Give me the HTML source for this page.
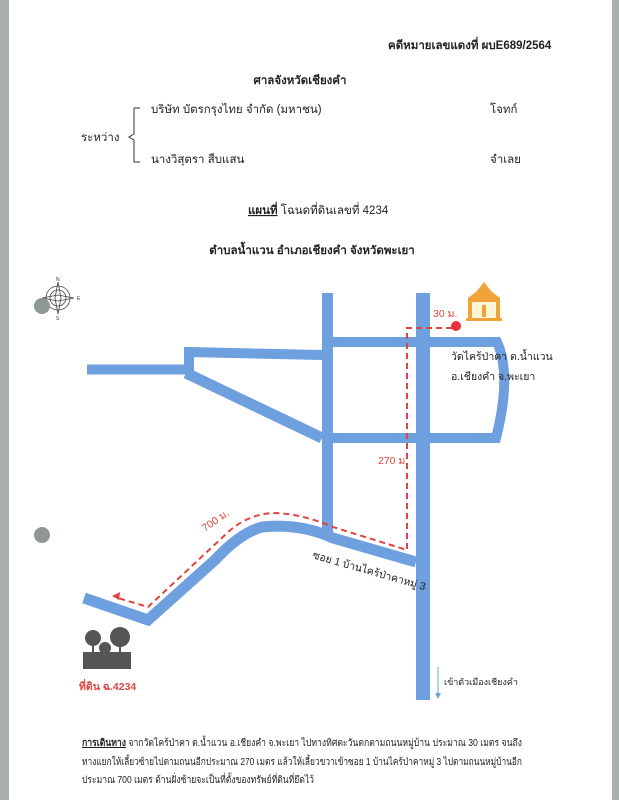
<!DOCTYPE html>
<html><head><meta charset="utf-8"><style>
body{margin:0;width:619px;height:800px;overflow:hidden;background:#fff}
svg{display:block}
text{font-family:"Liberation Sans","Noto Sans CJK SC",sans-serif}
</style></head><body>
<svg width="619" height="800" viewBox="0 0 619 800" xmlns="http://www.w3.org/2000/svg">
<rect width="619" height="800" fill="#fff"/>
<rect x="0" y="0" width="9" height="800" fill="#a9b0ad"/>
<rect x="612" y="0" width="7" height="800" fill="#a9b0ad"/>
<g font-size="11.5" fill="#222">
<text x="388" y="49" font-weight="bold">คดีหมายเลขแดงที่ ผบE689/2564</text>
<text x="300" y="84" font-weight="bold" text-anchor="middle">ศาลจังหวัดเชียงคำ</text>
<text x="151" y="113">บริษัท บัตรกรุงไทย จำกัด (มหาชน)</text>
<text x="490" y="113">โจทก์</text>
<text x="81" y="141">ระหว่าง</text>
<text x="151" y="163">นางวิสุตรา สืบแสน</text>
<text x="490" y="163">จำเลย</text>
<text x="248" y="214"><tspan font-weight="bold" text-decoration="underline">แผนที่</tspan> โฉนดที่ดินเลขที่ 4234</text>
<text x="312" y="254" font-weight="bold" text-anchor="middle">ตำบลน้ำแวน อำเภอเชียงคำ จังหวัดพะเยา</text>
</g>
<path d="M140 108 h-6 v26 l-5 3 l5 3 v22 h6" fill="none" stroke="#333" stroke-width="1"/>
<g fill="none" stroke="#6e9fdf" stroke-linejoin="miter">
<path d="M327.5 293 V538" stroke-width="11"/>
<path d="M423 293 V700" stroke-width="14"/>
<path d="M333 342 H497 Q512 375 496 438 H333" stroke-width="10"/>
<path d="M87 369.5 H189 V352 L322 355" stroke-width="10"/>
<path d="M186 373 L322 438" stroke-width="11"/>
<path d="M416 562 L333 538 Q300 523 262 527 Q240 533 215 560 L148 620 L84 598" stroke-width="11"/>
</g>
<g fill="none" stroke="#e0443e" stroke-width="2" stroke-dasharray="6,4">
<path d="M452 328 H407 V550 L333 527 Q300 513 272 513 Q245 515 225 535 L148 607 L118 598"/>
</g>
<path d="M112 596 l8 -4 l-1 8 z" fill="#e0443e"/>
<circle cx="456" cy="326" r="5" fill="#e8323a"/>
<g>
<path d="M468 320 h32 v-22 l-8 -6 l-8 -10 l-8 10 l-8 6 z" fill="#f0a33a"/>
<rect x="472" y="302" width="24" height="16" fill="#fff4d6"/>
<rect x="482" y="305" width="4" height="12" fill="#f0a33a"/>
<rect x="466" y="318" width="36" height="3" fill="#f0a33a"/>
</g>
<g font-size="10.5" fill="#e0443e">
<text x="433" y="317">30 ม.</text>
<text x="378" y="464">270 ม.</text>
<text x="205" y="532" transform="rotate(-35 205 532)">700 ม.</text>
<text x="79" y="690" font-weight="bold">ที่ดิน ฉ.4234</text>
</g>
<g font-size="10.5" fill="#222">
<text x="451" y="360">วัดไคร้ป่าคา ต.น้ำแวน</text>
<text x="451" y="380">อ.เชียงคำ จ.พะเยา</text>
<text x="312" y="558" transform="rotate(16 312 558)">ซอย 1 บ้านไคร้ป่าคาหมู่ 3</text>
<text x="444" y="685" font-size="9">เข้าตัวเมืองเชียงคำ</text>
</g>
<path d="M438 667 V696" stroke="#6e9fdf" stroke-width="1"/>
<path d="M435 693 l3 6 l3 -6 z" fill="#6e9fdf"/>
<g fill="#555">
<rect x="83" y="652" width="48" height="17"/>
<circle cx="93" cy="638" r="8"/><rect x="92" y="642" width="2" height="12"/>
<circle cx="105" cy="648" r="6"/>
<circle cx="120" cy="637" r="10"/><rect x="119" y="643" width="2" height="12"/>
</g>
<g stroke="#444" fill="none" stroke-width="0.8">
<circle cx="58" cy="298" r="12"/><circle cx="58" cy="298" r="8"/>
<path d="M58 282 L61 298 L58 314 L55 298 Z M42 298 L58 295 L74 298 L58 301 Z"/>
</g>
<g font-size="5" fill="#333"><text x="56" y="281">N</text><text x="77" y="300">E</text><text x="56" y="320">S</text></g>
<circle cx="42" cy="306" r="8" fill="#8e9895"/>
<circle cx="42" cy="535" r="8" fill="#8e9895"/>
<g font-size="10" fill="#222">
<text x="82" y="746" textLength="440" lengthAdjust="spacingAndGlyphs"><tspan font-weight="bold" text-decoration="underline">การเดินทาง</tspan>  จากวัดไคร้ป่าคา ต.น้ำแวน อ.เชียงคำ จ.พะเยา ไปทางทิศตะวันตกตามถนนหมู่บ้าน ประมาณ 30 เมตร จนถึง</text>
<text x="82" y="765" textLength="440" lengthAdjust="spacingAndGlyphs">ทางแยกให้เลี้ยวซ้ายไปตามถนนอีกประมาณ 270 เมตร แล้วให้เลี้ยวขวาเข้าซอย 1 บ้านไคร้ป่าคาหมู่ 3 ไปตามถนนหมู่บ้านอีก</text>
<text x="82" y="783" textLength="232" lengthAdjust="spacingAndGlyphs">ประมาณ 700 เมตร ด้านฝั่งซ้ายจะเป็นที่ตั้งของทรัพย์ที่ดินที่ยึดไว้</text>
</g>
</svg>
</body></html>
